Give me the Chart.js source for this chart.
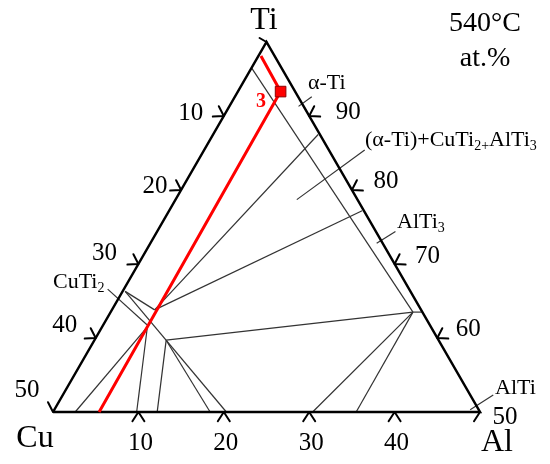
<!DOCTYPE html>
<html>
<head>
<meta charset="utf-8">
<script src="https://cdn.jsdelivr.net/npm/chart.js@4.4.1/dist/chart.umd.min.js"></script>
<style>
  html, body { margin: 0; padding: 0; background: #fff; }
  canvas { display: block; }
</style>
</head>
<body>
<canvas id="ternary" width="550" height="464"></canvas>
<script>
// every point is [Al at.%, Ti at.%], Cu is the rest (Ti-rich corner, Ti >= 50)
const frame = [[0, 50], [50, 50], [0, 100], [0, 50]];

const redPath = [[5.4, 50], [5.0, 93.3], [0.3, 98.1]];
const alloy3 = [[5.0, 93.3]];

const phaseLines = [
    [[0, 96.5], [35.4, 63.5]],
    [[35.4, 63.5], [36.4, 63.5]],
    [[5.0, 63.8], [12.3, 87.5]],
    [[5.0, 63.8], [22.6, 77.2]],
    [[0.3, 66.3], [5.0, 63.8]],
    [[0.3, 66.3], [20.3, 50]],
    [[8.4, 59.7], [35.4, 63.5]],
    [[8.4, 59.7], [12.2, 50]],
    [[8.4, 59.7], [18.4, 50]],
    [[5.3, 61.5], [2.6, 50]],
    [[5.3, 61.5], [9.8, 50]],
    [[35.4, 63.5], [30.4, 50]],
    [[35.4, 63.5], [35.5, 50]]
];

// label leader lines
const leaders = [
    [[9.0, 92.6], [8.1, 91.3]],
    [[18.8, 85.4], [14.2, 78.7]],
    [[27.9, 74.4], [26.5, 72.8]],
    [[-1.9, 66.6], [5.1, 61.8]],
    [[50.4, 52.3], [48.7, 50.3]]
];

const alTicks = [10, 20, 30, 40];
const cuTicks = [10, 20, 30, 40, 50];
const tiTicks = [90, 80, 70, 60, 50];

const SIN60 = Math.sqrt(3) / 2;
const toXY = ([al, ti]) => ({ x: al + (ti - 50) / 2, y: (ti - 50) * SIN60 });

const lineSet = (pts, color, width) => ({
    data: pts.map(toXY),
    borderColor: color,
    backgroundColor: color,
    borderWidth: width,
    pointRadius: 0,
    showLine: true,
    fill: false,
    clip: false,
    tension: 0
});

const serif = '"Liberation Serif", "Times New Roman", serif';

const annotate = {
    id: 'annotate',
    afterDatasetsDraw(chart) {
        const { ctx, scales: { x, y } } = chart;
        const px = (p) => {
            const q = toXY(p);
            return [x.getPixelForValue(q.x), y.getPixelForValue(q.y)];
        };
        const deg = Math.PI / 180;
        const arm = (pt, a, len) => {
            ctx.moveTo(pt[0], pt[1]);
            ctx.lineTo(pt[0] + len * Math.cos(a * deg), pt[1] + len * Math.sin(a * deg));
        };

        ctx.save();
        ctx.strokeStyle = '#000';
        ctx.lineWidth = 2;
        ctx.lineCap = 'round';
        ctx.beginPath();
        alTicks.forEach(v => { const p = px([v, 50]); arm(p, 57, 11); arm(p, 123, 11); });
        cuTicks.slice(0, 4).forEach(v => { const p = px([0, 100 - v]); arm(p, 177, 11); arm(p, 243, 11); });
        tiTicks.slice(0, 4).forEach(v => { const p = px([100 - v, v]); arm(p, 3, 11); arm(p, -63, 11); });
        arm(px([0, 50]), 243, 11);
        arm(px([50, 50]), 123, 11);
        arm(px([0, 100]), 210, 8);
        ctx.stroke();

        ctx.fillStyle = '#000';
        ctx.textBaseline = 'middle';
        ctx.textAlign = 'center';

        ctx.font = '25px ' + serif;
        const cuShift = [[-33, -3], [-26, -4], [-34, -11], [-31, -13], [-26, -22]];
        cuTicks.forEach((v, i) => {
            const p = px([0, 100 - v]);
            ctx.fillText(String(v), p[0] + cuShift[i][0], p[1] + cuShift[i][1]);
        });
        const tiShift = [[39, -4], [34, -9], [33, -8], [31, -9], [25, 5]];
        tiTicks.forEach((v, i) => {
            const p = px([100 - v, v]);
            ctx.fillText(String(v), p[0] + tiShift[i][0], p[1] + tiShift[i][1]);
        });
        alTicks.forEach(v => {
            const p = px([v, 50]);
            ctx.fillText(String(v), p[0] + 2, p[1] + 31);
        });

        ctx.font = '32px ' + serif;
        ctx.fillText('Ti', 264, 21);
        ctx.fillText('Cu', 35, 439);
        ctx.fillText('Al', 497, 443);

        ctx.font = '28px ' + serif;
        ctx.fillText('540°C', 485, 24);
        ctx.fillText('at.%', 485, 59);

        const rich = (parts, x0, y0, size) => {
            let cx = x0;
            ctx.textAlign = 'left';
            parts.forEach(([s, sub]) => {
                ctx.font = (sub ? Math.round(size * 0.65) : size) + 'px ' + serif;
                ctx.fillText(s, cx, y0 + (sub ? size * 0.3 : 0));
                cx += ctx.measureText(s).width;
            });
        };
        rich([['α-Ti', 0]], 308, 83, 22);
        rich([['(α-Ti)+CuTi', 0], ['2+', 1], ['AlTi', 0], ['3', 1]], 365, 140, 22);
        rich([['AlTi', 0], ['3', 1]], 397, 222, 22);
        rich([['CuTi', 0], ['2', 1]], 53, 282, 22);
        rich([['AlTi', 0]], 495, 388, 22);

        ctx.fillStyle = '#ff0000';
        ctx.font = 'bold 20px ' + serif;
        ctx.textAlign = 'center';
        ctx.fillText('3', 261, 102);
        ctx.restore();
    }
};

const datasets = [
    {
        data: alloy3.map(toXY),
        pointStyle: 'rect',
        pointRadius: 7.5,
        backgroundColor: '#ff0000',
        borderColor: '#8a0000',
        borderWidth: 1,
        showLine: false,
        clip: false
    },
    lineSet(redPath, '#ff0000', 3),
    lineSet(frame, '#000000', 2.5)
];
phaseLines.forEach(seg => datasets.push(lineSet(seg, '#333333', 1.2)));
leaders.forEach(seg => datasets.push(lineSet(seg, '#333333', 1.2)));

new Chart(document.getElementById('ternary').getContext('2d'), {
    type: 'scatter',
    data: { datasets: datasets },
    options: {
        responsive: false,
        animation: false,
        events: [],
        layout: { padding: { left: 53, right: 70, top: 42, bottom: 52 } },
        scales: {
            x: { type: 'linear', display: false, min: 0, max: 50 },
            y: { type: 'linear', display: false, min: 0, max: 25 * Math.sqrt(3) }
        },
        plugins: {
            legend: { display: false },
            tooltip: { enabled: false }
        }
    },
    plugins: [annotate]
});
</script>
</body>
</html>
